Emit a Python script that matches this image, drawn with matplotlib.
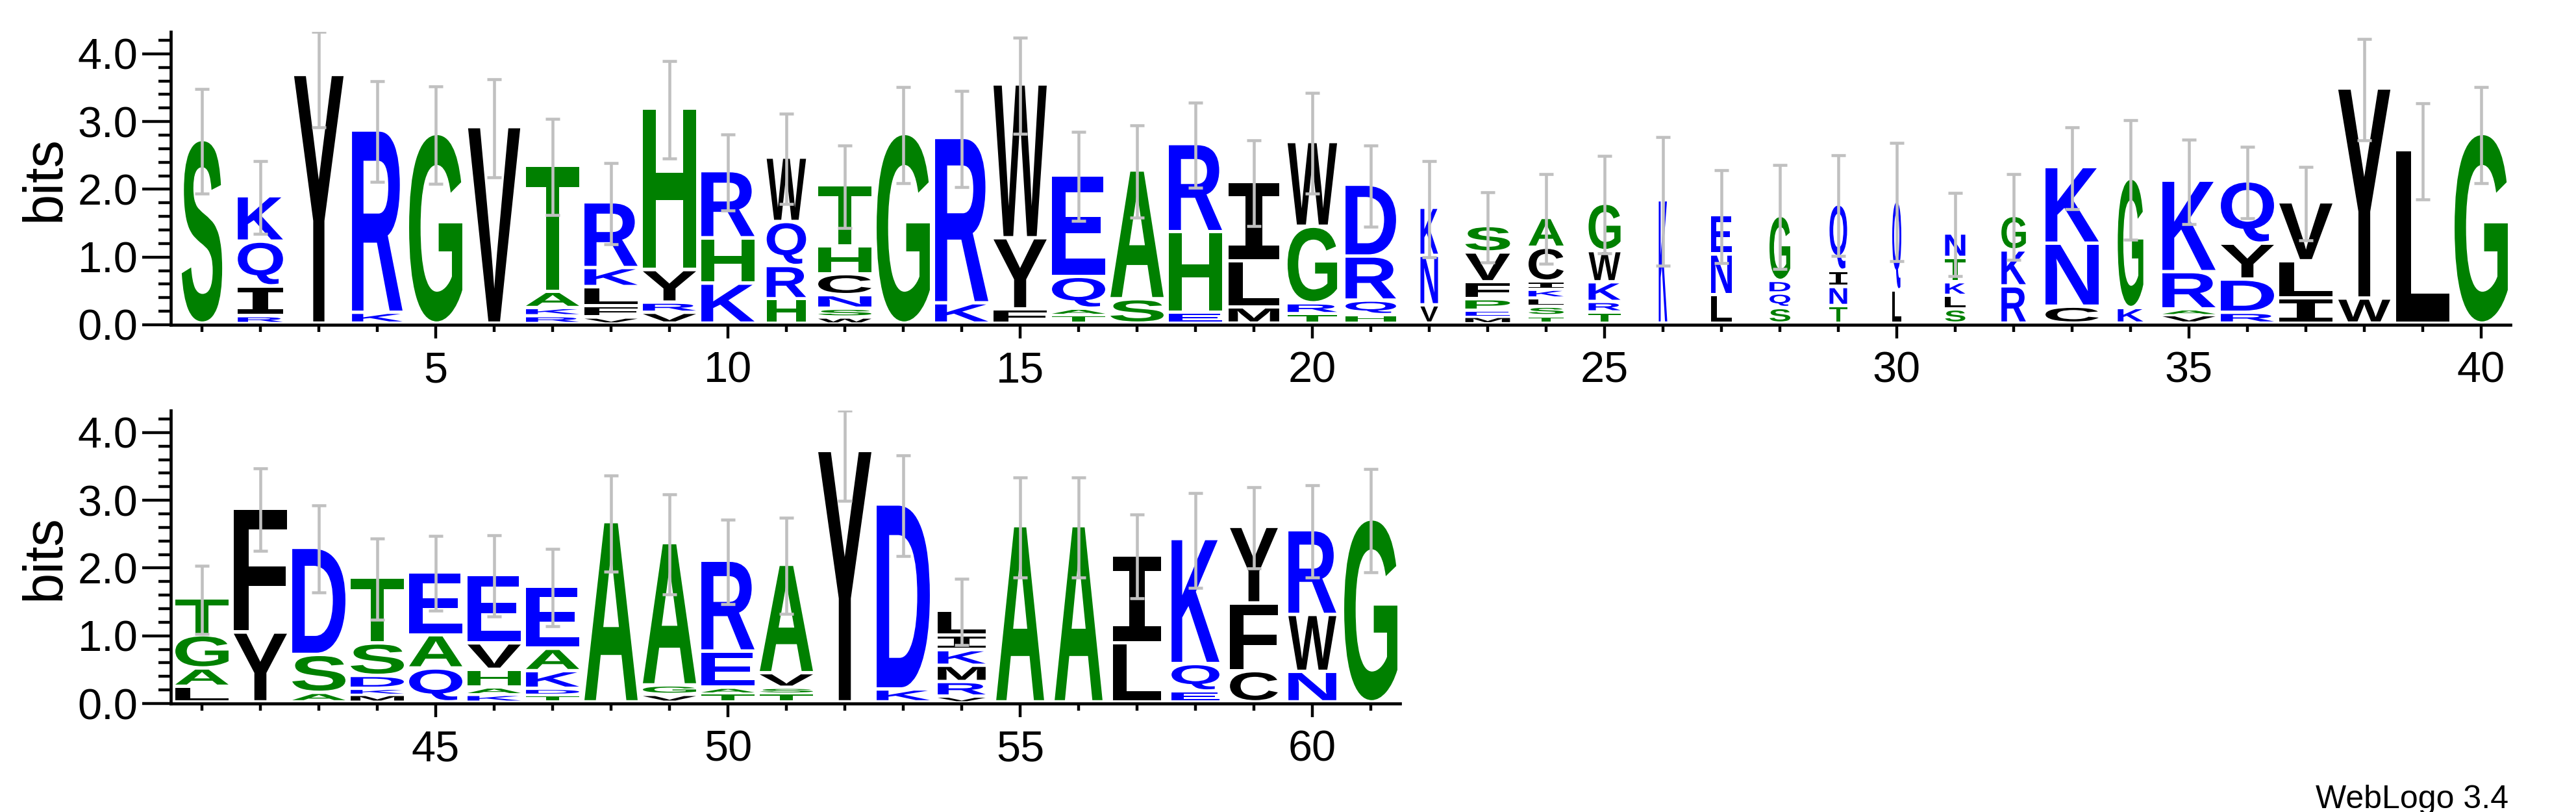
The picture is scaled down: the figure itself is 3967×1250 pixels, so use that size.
import matplotlib
matplotlib.use("Agg")
import matplotlib.pyplot as plt
from matplotlib.textpath import TextPath
from matplotlib.patches import PathPatch
from matplotlib.font_manager import FontProperties
from matplotlib.transforms import Affine2D
from matplotlib.ticker import FixedLocator

plt.rcParams['font.family'] = ['Liberation Sans', 'DejaVu Sans']

# sequence positions 1..61, letters listed bottom -> top
positions = list(range(1, 62))
stack_letters = [
    "S", "RIQK", "Y", "KR", "G", "V", "RKAT", "VFLKR", "VRYH", "KHR",
    "HRQW", "WSNCHT", "G", "KR", "FYW", "TAQE", "SA", "EHR", "MLI", "TRGW",
    "HQRD", "VNK", "MEPFVS", "TSLKICA", "TRKWG", "K", "LNE", "SQDG", "TNIQ", "LQ",
    "SLKTN", "RKG", "CNK", "KG", "VARK", "RDYQ", "ILV", "WY", "L", "G",
    "LAGT", "YF", "ASD", "MKDST", "QAE", "KAHVE", "TDKAE", "A", "VGA", "TAER",
    "TSVA", "Y", "KD", "VRMKIL", "A", "A", "LI", "EQK", "CFY", "NWR",
    "G",
]
# cumulative top of each letter in bits
stack_tops = [
    [2.71], [0.11, 0.55, 1.21, 1.88], [3.67], [0.16, 2.85], [2.80], [2.90],
    [0.11, 0.23, 0.47, 2.33], [0.09, 0.26, 0.54, 0.82, 1.79],
    [0.16, 0.31, 0.79, 3.17], [0.59, 1.26, 2.25],
    [0.36, 0.85, 1.50, 2.45], [0.09, 0.22, 0.42, 0.73, 1.14, 2.04], [2.80],
    [0.30, 2.74], [0.21, 1.26, 3.53], [0.125, 0.22, 0.69, 2.19], [0.36, 2.26],
    [0.16, 1.35, 2.65], [0.24, 0.92, 2.09], [0.14, 0.30, 1.43, 2.68],
    [0.125, 0.34, 0.99, 2.05], [0.27, 1.0, 1.71], [0.10, 0.19, 0.36, 0.61, 1.05, 1.44],
    [0.11, 0.25, 0.37, 0.50, 0.62, 1.12, 1.56], [0.165, 0.32, 0.61, 1.07, 1.77],
    [1.82], [0.42, 1.02, 1.60], [0.23, 0.445, 0.63, 1.59], [0.26, 0.54, 0.78, 1.76],
    [0.49, 1.81], [0.21, 0.41, 0.61, 0.97, 1.33], [0.55, 1.08, 1.59],
    [0.25, 1.18, 2.31], [0.23, 2.14], [0.125, 0.21, 0.76, 2.11],
    [0.16, 0.65, 1.18, 2.10], [0.37, 0.92, 1.79], [0.37, 3.47], [2.56], [2.80],
    [0.23, 0.50, 0.99, 1.53], [1.03, 2.86], [0.14, 0.70, 2.28],
    [0.11, 0.20, 0.39, 0.87, 1.84], [0.50, 0.99, 1.92], [0.11, 0.22, 0.48, 0.87, 1.88],
    [0.11, 0.20, 0.46, 0.79, 1.71], [2.66], [0.11, 0.25, 2.35], [0.13, 0.215, 0.75, 2.09],
    [0.13, 0.215, 0.43, 2.03], [3.71], [0.19, 2.92], [0.085, 0.30, 0.54, 0.77, 0.99, 1.35],
    [2.60], [2.60], [0.87, 2.17], [0.16, 0.565, 2.41], [0.46, 1.46, 2.59],
    [0.45, 1.29, 2.54], [2.70],
]
error_half = [
    0.775, 0.54, 0.76, 0.745, 0.72, 0.72, 0.71, 0.60, 0.72, 0.56,
    0.67, 0.61, 0.71, 0.71, 0.71, 0.66, 0.68, 0.63, 0.63, 0.74,
    0.60, 0.71, 0.515, 0.66, 0.72, 0.95, 0.685, 0.77, 0.74, 0.87,
    0.615, 0.635, 0.60, 0.88, 0.62, 0.53, 0.54, 0.75, 0.71, 0.71,
    0.50, 0.61, 0.64, 0.60, 0.55, 0.60, 0.57, 0.71, 0.74, 0.62,
    0.71, 0.72, 0.74, 0.49, 0.74, 0.74, 0.62, 0.70, 0.60, 0.68,
    0.765,
]
# relative stack width (fraction of non-gap)
stack_width = [
    0.76, 0.85, 0.93, 0.95, 1.0, 0.98, 1.0, 1.0, 1.0, 1.0,
    0.74, 1.0, 1.0, 1.0, 1.0, 1.0, 1.0, 1.0, 0.95, 0.93,
    0.95, 0.33, 0.84, 0.66, 0.60, 0.16, 0.39, 0.39, 0.33, 0.17,
    0.38, 0.46, 1.0, 0.48, 1.0, 1.0, 1.0, 0.98, 1.0, 1.0,
    1.0, 1.0, 1.0, 1.0, 1.0, 1.0, 1.0, 1.0, 1.0, 1.0,
    1.0, 1.0, 1.0, 0.9, 0.9, 0.9, 0.9, 0.9, 0.9, 0.9,
    1.0,
]

green_set = "SGTAHP"
blue_set = "RKQDEN"
ymax = 4.32

fp = FontProperties(family='Liberation Sans', weight='bold')
fp_i = FontProperties(family='DejaVu Sans Mono', weight='bold')


def letter_color(ch):
    if ch in green_set:
        return '#008000'
    if ch in blue_set:
        return '#0000ff'
    return '#000000'


def draw_letter(ax, ch, x, y0, y1, w):
    tp = TextPath((0, 0), ch, size=1, prop=fp_i if ch == 'I' else fp)
    bb = tp.get_extents()
    t = (Affine2D().translate(-bb.x0, -bb.y0)
         .scale(w / bb.width, (y1 - y0) / bb.height)
         .translate(x - w / 2, y0))
    ax.add_patch(PathPatch(t.transform_path(tp), fc=letter_color(ch), ec='none', lw=0))


def draw_row(ax, idx):
    for i in idx:
        x = positions[i]
        w = 0.91 * stack_width[i]
        prev = 0.0
        for ch, top in zip(stack_letters[i], stack_tops[i]):
            h = top - prev
            g = min(0.05, 0.4 * h)
            draw_letter(ax, ch, x, prev + g, top, w)
            prev = top
        c = stack_tops[i][-1]
        lo = c - error_half[i]
        hi = min(c + error_half[i], ymax)
        ax.plot([x, x], [lo, hi], color='#c0c0c0', lw=3.3, solid_capstyle='butt', zorder=5)
        for yy in (lo, hi):
            ax.plot([x - 0.12, x + 0.12], [yy, yy], color='#c0c0c0', lw=3.3,
                    solid_capstyle='butt', zorder=5)


def style_axis(ax, x0, x1, labels):
    ax.set_xlim(x0 - 0.53, x1 + 0.5)
    ax.set_ylim(0, ymax)
    for s in ('top', 'right'):
        ax.spines[s].set_visible(False)
    for s in ('left', 'bottom'):
        ax.spines[s].set_linewidth(3.4)
    ax.xaxis.set_major_locator(FixedLocator(labels))
    ax.xaxis.set_minor_locator(FixedLocator(list(range(x0, x1 + 1))))
    ax.set_xticklabels([str(v) for v in labels])
    ax.yaxis.set_major_locator(FixedLocator([0, 1, 2, 3, 4]))
    ax.yaxis.set_minor_locator(FixedLocator([k * 0.2 for k in range(1, 22)]))
    ax.set_yticklabels(["0.0", "1.0", "2.0", "3.0", "4.0"])
    ax.tick_params(axis='x', which='major', length=15, width=3.2, pad=14, labelsize=48)
    ax.tick_params(axis='x', which='minor', length=8, width=3.2)
    ax.tick_params(axis='y', which='major', length=31.5, width=3.2, pad=5, labelsize=48)
    ax.tick_params(axis='y', which='minor', length=14, width=3.2)


W, H = 3967, 1250
fig = plt.figure(figsize=(W / 100, H / 100), dpi=100)
px = 90.0
left = 263.3
ax1 = fig.add_axes([left / W, (H - 500) / H, 40.03 * px / W, ymax * 104.3 / H])
ax2 = fig.add_axes([left / W, (H - 1083) / H, 21.03 * px / W, ymax * 104.3 / H])

draw_row(ax1, range(0, 40))
draw_row(ax2, range(40, 61))
style_axis(ax1, 1, 40, [5, 10, 15, 20, 25, 30, 35, 40])
style_axis(ax2, 41, 61, [45, 50, 55, 60])

for ax in (ax1, ax2):
    pos = ax.get_position()
    fig.text(70 / W, (pos.y0 + pos.y1) / 2, "bits", rotation=90, ha='center',
             va='center', fontsize=61)

fig.text(3863 / W, 6 / H, "WebLogo 3.4", ha='right', va='baseline', fontsize=36)

fig.savefig("out.png", dpi=100)
